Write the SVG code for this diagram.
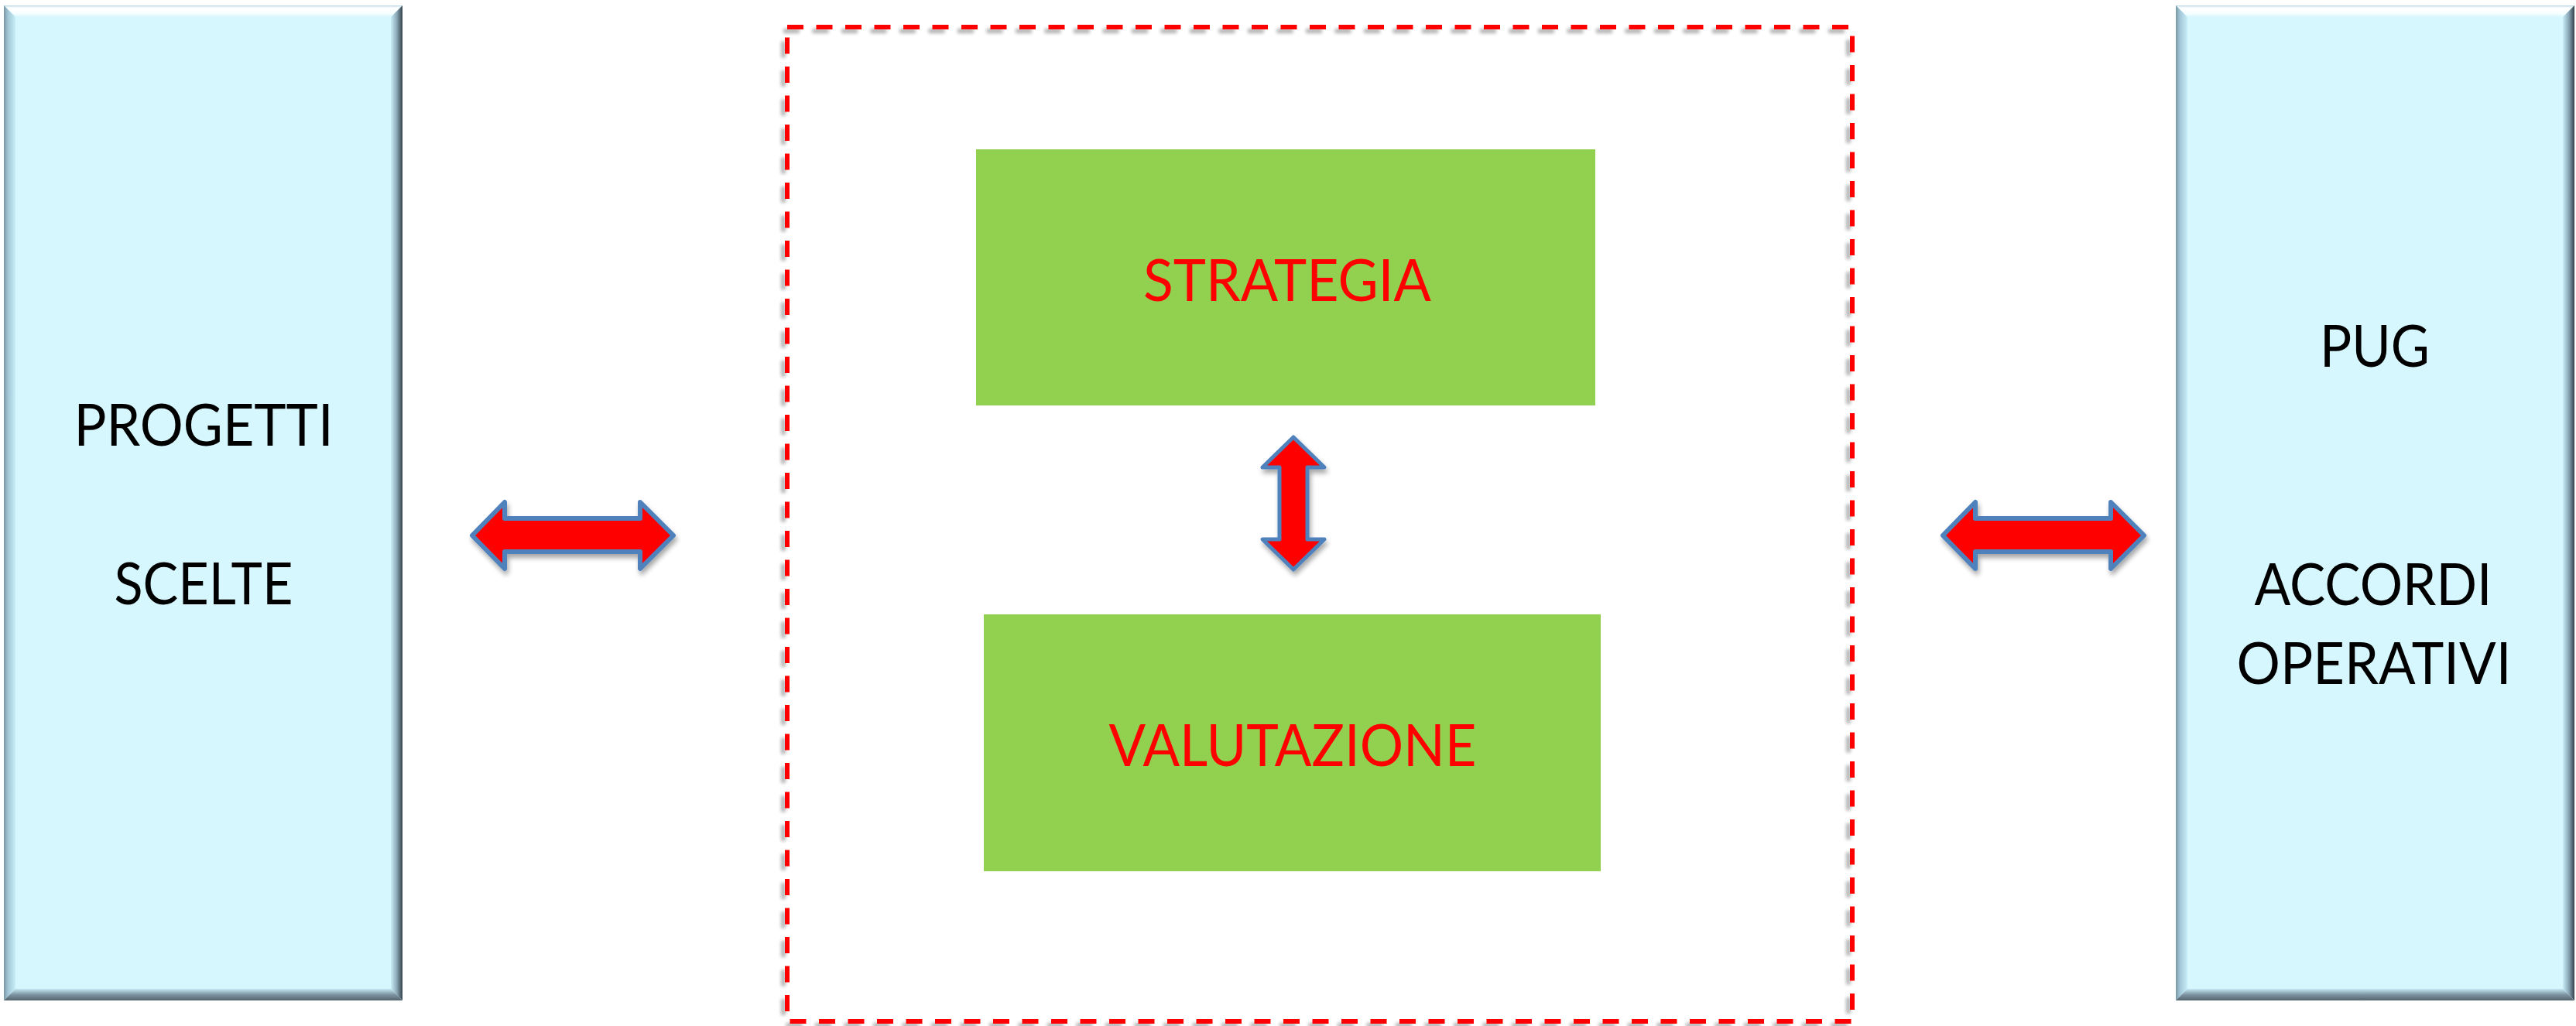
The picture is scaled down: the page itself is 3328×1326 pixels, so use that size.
<svg xmlns="http://www.w3.org/2000/svg" width="3328" height="1326" viewBox="0 0 3328 1326">
  <style>
    .panel { fill: #D6F7FD; }
    .lbl { font-family: "Lato", "Liberation Sans", sans-serif; font-size: 75px; text-anchor: middle; }
    .black { fill: #000000; }
    .red { fill: #FF0000; }
    .green { fill: #92D050; }
    .arrow { fill: #FF0000; stroke: #4F81BD; stroke-width: 6; stroke-linejoin: round; filter: url(#shadow); }
    .frame { fill: none; stroke: #FF0000; stroke-width: 6; stroke-dasharray: 21 16.5; filter: url(#fshadow); }
  </style>
  <defs>
    <linearGradient id="gTop" x1="0" y1="0" x2="0" y2="1">
      <stop offset="0" stop-color="#B9D8E4"/>
      <stop offset="0.2" stop-color="#FFFFFF"/>
      <stop offset="0.7" stop-color="#F6FEFF"/>
      <stop offset="1" stop-color="#D6F7FD"/>
    </linearGradient>
    <linearGradient id="gLeft" x1="0" y1="0" x2="1" y2="0">
      <stop offset="0" stop-color="#7A97A6"/>
      <stop offset="0.35" stop-color="#A2C6D6"/>
      <stop offset="1" stop-color="#C8EEF8"/>
    </linearGradient>
    <linearGradient id="gRight" x1="0" y1="0" x2="1" y2="0">
      <stop offset="0" stop-color="#C8EEF8"/>
      <stop offset="0.5" stop-color="#8CA9B8"/>
      <stop offset="1" stop-color="#34424B"/>
    </linearGradient>
    <linearGradient id="gBottom" x1="0" y1="0" x2="0" y2="1">
      <stop offset="0" stop-color="#C4E8F4"/>
      <stop offset="0.5" stop-color="#7E94A2"/>
      <stop offset="1" stop-color="#56656F"/>
    </linearGradient>
    <filter id="shadow" x="-20%" y="-20%" width="140%" height="150%">
      <feGaussianBlur in="SourceAlpha" stdDeviation="3"/>
      <feOffset dx="2" dy="5" result="b"/>
      <feComponentTransfer><feFuncA type="linear" slope="0.35"/></feComponentTransfer>
      <feMerge><feMergeNode/><feMergeNode in="SourceGraphic"/></feMerge>
    </filter>
    <filter id="fshadow" x="-5%" y="-5%" width="110%" height="110%">
      <feGaussianBlur in="SourceAlpha" stdDeviation="2"/>
      <feOffset dx="-5" dy="5" result="b"/>
      <feComponentTransfer><feFuncA type="linear" slope="0.3"/></feComponentTransfer>
      <feMerge><feMergeNode/><feMergeNode in="SourceGraphic"/></feMerge>
    </filter>
  </defs>

  <rect width="3328" height="1326" fill="#FFFFFF"/>

  <g id="node-progetti">
    <rect class="panel" x="5" y="7" width="515" height="1286"/>
    <polygon points="5,7 520,7 505,22 20,22" fill="url(#gTop)"/>
    <polygon points="5,7 20,22 20,1278 5,1293" fill="url(#gLeft)"/>
    <polygon points="520,7 505,22 505,1278 520,1293" fill="url(#gRight)"/>
    <polygon points="5,1293 20,1278 505,1278 520,1293" fill="url(#gBottom)"/>
    <text class="lbl black" x="263" y="576" textLength="335" lengthAdjust="spacingAndGlyphs">PROGETTI</text>
    <text class="lbl black" x="263" y="781" textLength="231" lengthAdjust="spacingAndGlyphs">SCELTE</text>
  </g>

  <g id="node-pug">
    <rect class="panel" x="2811" y="7" width="515" height="1286"/>
    <polygon points="2811,7 3326,7 3311,22 2826,22" fill="url(#gTop)"/>
    <polygon points="2811,7 2826,22 2826,1278 2811,1293" fill="url(#gLeft)"/>
    <polygon points="3326,7 3311,22 3311,1278 3326,1293" fill="url(#gRight)"/>
    <polygon points="2811,1293 2826,1278 3311,1278 3326,1293" fill="url(#gBottom)"/>
    <text class="lbl black" x="3068" y="474" textLength="142" lengthAdjust="spacingAndGlyphs">PUG</text>
    <text class="lbl black" x="3066" y="782" textLength="307" lengthAdjust="spacingAndGlyphs">ACCORDI</text>
    <text class="lbl black" x="3067" y="884" textLength="355" lengthAdjust="spacingAndGlyphs">OPERATIVI</text>
  </g>

  <g id="node-frame">
    <rect class="frame" x="1017" y="35" width="1376" height="1285"/>
  </g>

  <g id="node-strategia">
    <rect class="green" x="1261" y="193" width="800" height="331"/>
    <text class="lbl red" x="1663" y="389" textLength="372" lengthAdjust="spacingAndGlyphs">STRATEGIA</text>
  </g>

  <g id="node-valutazione">
    <rect class="green" x="1271" y="794" width="797" height="332"/>
    <text class="lbl red" x="1670" y="990" textLength="475" lengthAdjust="spacingAndGlyphs">VALUTAZIONE</text>
  </g>

  <g id="connectors">
    <polygon class="arrow" points="610,692 652,649 652,670 827,670 827,649 870,692 827,735 827,713 652,713 652,735"/>
    <polygon class="arrow" points="2510,692 2552,649 2552,670 2727,670 2727,649 2770,692 2727,735 2727,713 2552,713 2552,735"/>
    <polygon class="arrow" style="stroke-width:5" points="1671,565 1711,604 1689,604 1689,697 1711,697 1671,736 1631,697 1653,697 1653,604 1631,604"/>
  </g>
</svg>
